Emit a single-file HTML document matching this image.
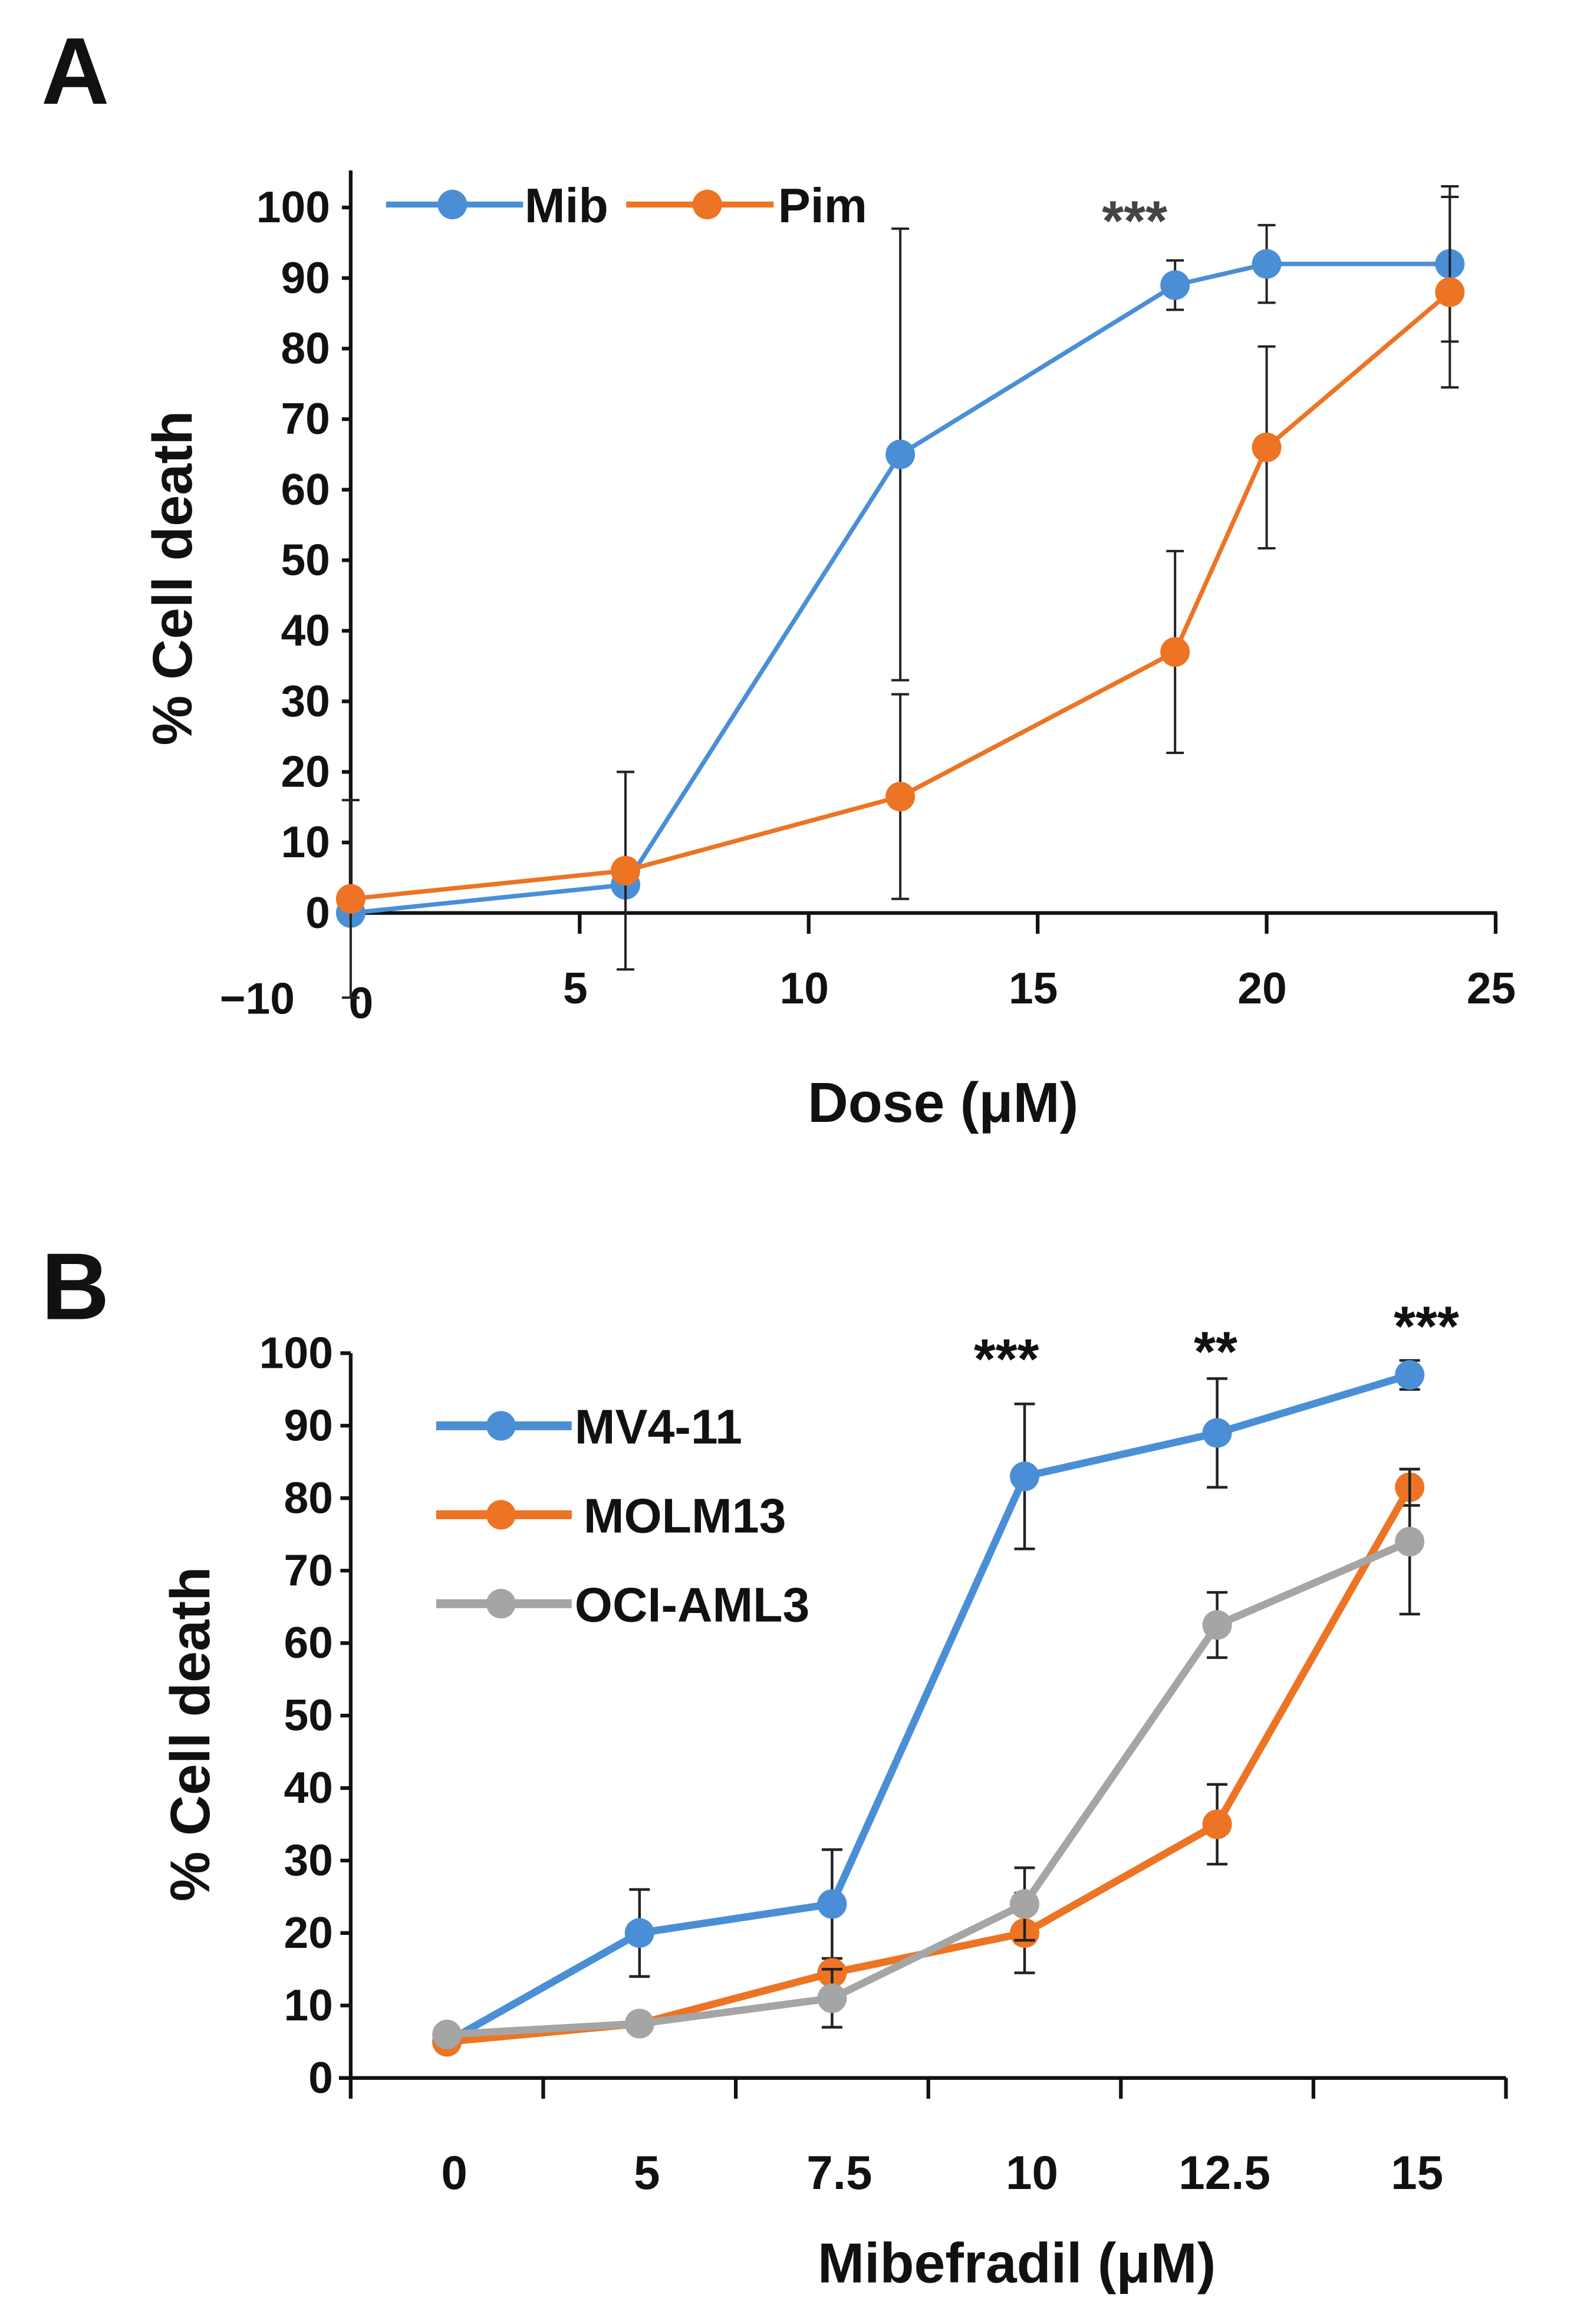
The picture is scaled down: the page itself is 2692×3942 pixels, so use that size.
<!DOCTYPE html>
<html><head><meta charset="utf-8"><style>
html,body{margin:0;padding:0;background:#fff}
svg{display:block}
text{font-family:"Liberation Sans Narrow","Liberation Sans",sans-serif;font-weight:bold;fill:#111}
</style></head><body>
<svg id="fig" width="2692" height="3942" viewBox="0 0 1077 1568" preserveAspectRatio="none" xmlns="http://www.w3.org/2000/svg">
<text x="28" y="70" font-size="64">A</text>
<text x="28" y="890" font-size="64">B</text>
<g id="chartA"></g>
<g id="chartB"></g>
</svg>
<script>
// Panel A data
const doseA = [0, 6, 12, 18, 20, 24];
const mibVals = [0, 4, 65, 89, 92, 92];
const mibErr = [0, 0, 32, 3.5, 5.5, 11];
const pimVals = [2, 6, 16.5, 37, 66, 88];
const pimErr = [14, 14, 14.5, 14.3, 14.3, 13.5];
const yTicksA = [0, 10, 20, 30, 40, 50, 60, 70, 80, 90, 100];
const xTicksA = [5, 10, 15, 20, 25];
// Panel B data
const catsB = ["0", "5", "7.5", "10", "12.5", "15"];
const mv4Vals = [5, 20, 24, 83, 89, 97];
const mv4Err = [0, 6, 7.5, 10, 7.5, 2];
const molmVals = [5, 7.5, 14.5, 20, 35, 81.5];
const molmErr = [0, 0, 0, 5.5, 5.5, 2.5];
const ociVals = [6, 7.5, 11, 24, 62.5, 74];
const ociErr = [1, 1, 4, 5, 4.5, 10];
const yTicksB = [0, 10, 20, 30, 40, 50, 60, 70, 80, 90, 100];

const NS = "http://www.w3.org/2000/svg";
function mk(parent, tag, attrs, txt) {
  const e = document.createElementNS(NS, tag);
  for (const k in attrs) e.setAttribute(k, attrs[k]);
  if (txt !== undefined) e.textContent = txt;
  parent.appendChild(e);
  return e;
}
const BLUE = "#4a8fd6", ORANGE = "#ec7424", GRAY = "#a5a5a5";

// ---------- Chart A ----------
const gA = document.getElementById("chartA");
const xA = v => 238 + v * (1015 - 238) / 25;
const yA = v => 616 - v * (616 - 140) / 100;
let e;
e = mk(gA, "line", {x1: 238, y1: 115, x2: 238, y2: 622, stroke: "#111", "stroke-width": 2.5});


e = mk(gA, "line", {x1: 236, y1: yA(0), x2: 1016, y2: yA(0), stroke: "#111", "stroke-width": 2.5});


yTicksA.forEach(t => {
  mk(gA, "line", {x1: 232, y1: yA(t), x2: 238, y2: yA(t), stroke: "#111", "stroke-width": 2.5});
  e = mk(gA, "text", {x: 224, y: yA(t) + 10, "font-size": 30, "text-anchor": "end"}, String(t));
  
  
});
e = mk(gA, "text", {x: 200, y: 684, "font-size": 30, "text-anchor": "end"}, "\u221210");


e = mk(gA, "text", {x: 245, y: 687, "font-size": 30, "text-anchor": "middle"}, "0");


xTicksA.forEach(t => {
  mk(gA, "line", {x1: xA(t), y1: yA(0), x2: xA(t), y2: yA(0) + 14, stroke: "#111", "stroke-width": 2.5});
  e = mk(gA, "text", {x: xA(t) - 3, y: 677, "font-size": 30, "text-anchor": "middle"}, String(t));
  
  
});
e = mk(gA, "text", {x: 0, y: 0, "font-size": 38, "text-anchor": "middle", transform: "translate(130,390) rotate(-90)"}, "% Cell death");


e = mk(gA, "text", {x: 640, y: 757, "font-size": 38, "text-anchor": "middle"}, "Dose (\u03bcM)");


function seriesA(vals, errs, color, name) {
  const g = mk(gA, "g", {});
  
  
  vals.forEach((v, i) => {
    if (errs[i] > 0) {
      const x = xA(doseA[i]);
      mk(g, "line", {x1: x, y1: yA(v - errs[i]), x2: x, y2: yA(v + errs[i]), stroke: "#222", "stroke-width": 1.6});
      mk(g, "line", {x1: x - 6, y1: yA(v - errs[i]), x2: x + 6, y2: yA(v - errs[i]), stroke: "#222", "stroke-width": 1.6});
      mk(g, "line", {x1: x - 6, y1: yA(v + errs[i]), x2: x + 6, y2: yA(v + errs[i]), stroke: "#222", "stroke-width": 1.6});
    }
  });
  const pts = vals.map((v, i) => xA(doseA[i]) + "," + yA(v)).join(" ");
  e = mk(g, "polyline", {points: pts, fill: "none", stroke: color, "stroke-width": 3});
  
  
  vals.forEach((v, i) => {
    e = mk(g, "circle", {cx: xA(doseA[i]), cy: yA(v), r: 10, fill: color});
    
    
  });
}
seriesA(mibVals, mibErr, BLUE, "mib");
seriesA(pimVals, pimErr, ORANGE, "pim");
// legend A
e = mk(gA, "g", {});


mk(e, "line", {x1: 262, y1: 138, x2: 355, y2: 138, stroke: BLUE, "stroke-width": 4});
mk(e, "circle", {cx: 307, cy: 138, r: 10, fill: BLUE});
mk(e, "text", {x: 356, y: 150, "font-size": 33}, "Mib");
mk(e, "line", {x1: 425, y1: 138, x2: 525, y2: 138, stroke: ORANGE, "stroke-width": 4});
mk(e, "circle", {cx: 480, cy: 138, r: 10, fill: ORANGE});
mk(e, "text", {x: 528, y: 150, "font-size": 33}, "Pim");
e = mk(gA, "text", {x: 770, y: 162, "font-size": 38, "text-anchor": "middle", style: "fill:#444"}, "***");



// ---------- Chart B ----------
const gB = document.getElementById("chartB");
const bw = (1022 - 238) / catsB.length;
const xB = i => 238 + bw * (i + 0.5);
const yB = v => 1402 - v * (1402 - 913) / 100;
e = mk(gB, "line", {x1: 238, y1: 913, x2: 238, y2: 1415, stroke: "#111", "stroke-width": 2.5});


e = mk(gB, "line", {x1: 230, y1: yB(0), x2: 1022, y2: yB(0), stroke: "#111", "stroke-width": 2.5});


yTicksB.forEach(t => {
  mk(gB, "line", {x1: 231, y1: yB(t), x2: 238, y2: yB(t), stroke: "#111", "stroke-width": 2.5});
  e = mk(gB, "text", {x: 226, y: yB(t) + 10, "font-size": 30, "text-anchor": "end"}, String(t));
  
  
});
for (let i = 0; i <= catsB.length; i++) {
  mk(gB, "line", {x1: 238 + bw * i, y1: yB(0), x2: 238 + bw * i, y2: yB(0) + 14, stroke: "#111", "stroke-width": 2.5});
}
catsB.forEach((c, i) => {
  e = mk(gB, "text", {x: xB(i) + 5, y: 1477, "font-size": 32, "text-anchor": "middle"}, c);
  
  
});
e = mk(gB, "text", {x: 0, y: 0, "font-size": 38, "text-anchor": "middle", transform: "translate(142,1170) rotate(-90)"}, "% Cell death");


e = mk(gB, "text", {x: 690, y: 1540, "font-size": 38, "text-anchor": "middle"}, "Mibefradil (\u03bcM)");


function seriesB(vals, errs, color, name) {
  const g = mk(gB, "g", {});
  
  
  vals.forEach((v, i) => {
    if (errs[i] > 0) {
      const x = xB(i);
      mk(g, "line", {x1: x, y1: yB(v - errs[i]), x2: x, y2: yB(v + errs[i]), stroke: "#222", "stroke-width": 1.8});
      mk(g, "line", {x1: x - 7, y1: yB(v - errs[i]), x2: x + 7, y2: yB(v - errs[i]), stroke: "#222", "stroke-width": 1.8});
      mk(g, "line", {x1: x - 7, y1: yB(v + errs[i]), x2: x + 7, y2: yB(v + errs[i]), stroke: "#222", "stroke-width": 1.8});
    }
  });
  const pts = vals.map((v, i) => xB(i) + "," + yB(v)).join(" ");
  e = mk(g, "polyline", {points: pts, fill: "none", stroke: color, "stroke-width": 5});
  
  
  vals.forEach((v, i) => {
    e = mk(g, "circle", {cx: xB(i), cy: yB(v), r: 10, fill: color});
    
    
  });
}
seriesB(mv4Vals, mv4Err, BLUE, "mv4-11");
seriesB(molmVals, molmErr, ORANGE, "molm13");
seriesB(ociVals, ociErr, GRAY, "oci-aml3");
const legB = mk(gB, "g", {});


[[962, BLUE, "MV4-11", 390], [1022, ORANGE, "MOLM13", 396], [1082, GRAY, "OCI-AML3", 390]].forEach(r => {
  mk(legB, "line", {x1: 296, y1: r[0], x2: 388, y2: r[0], stroke: r[1], "stroke-width": 6});
  mk(legB, "circle", {cx: 340, cy: r[0], r: 10, fill: r[1]});
  mk(legB, "text", {x: r[3], y: r[0] + 12, "font-size": 33}, r[2]);
});
[[683, 930, "***"], [825, 925, "**"], [968, 908, "***"]].forEach(s => {
  e = mk(gB, "text", {x: s[0], y: s[1], "font-size": 38, "text-anchor": "middle"}, s[2]);
  
  
});
</script>
</body></html>
